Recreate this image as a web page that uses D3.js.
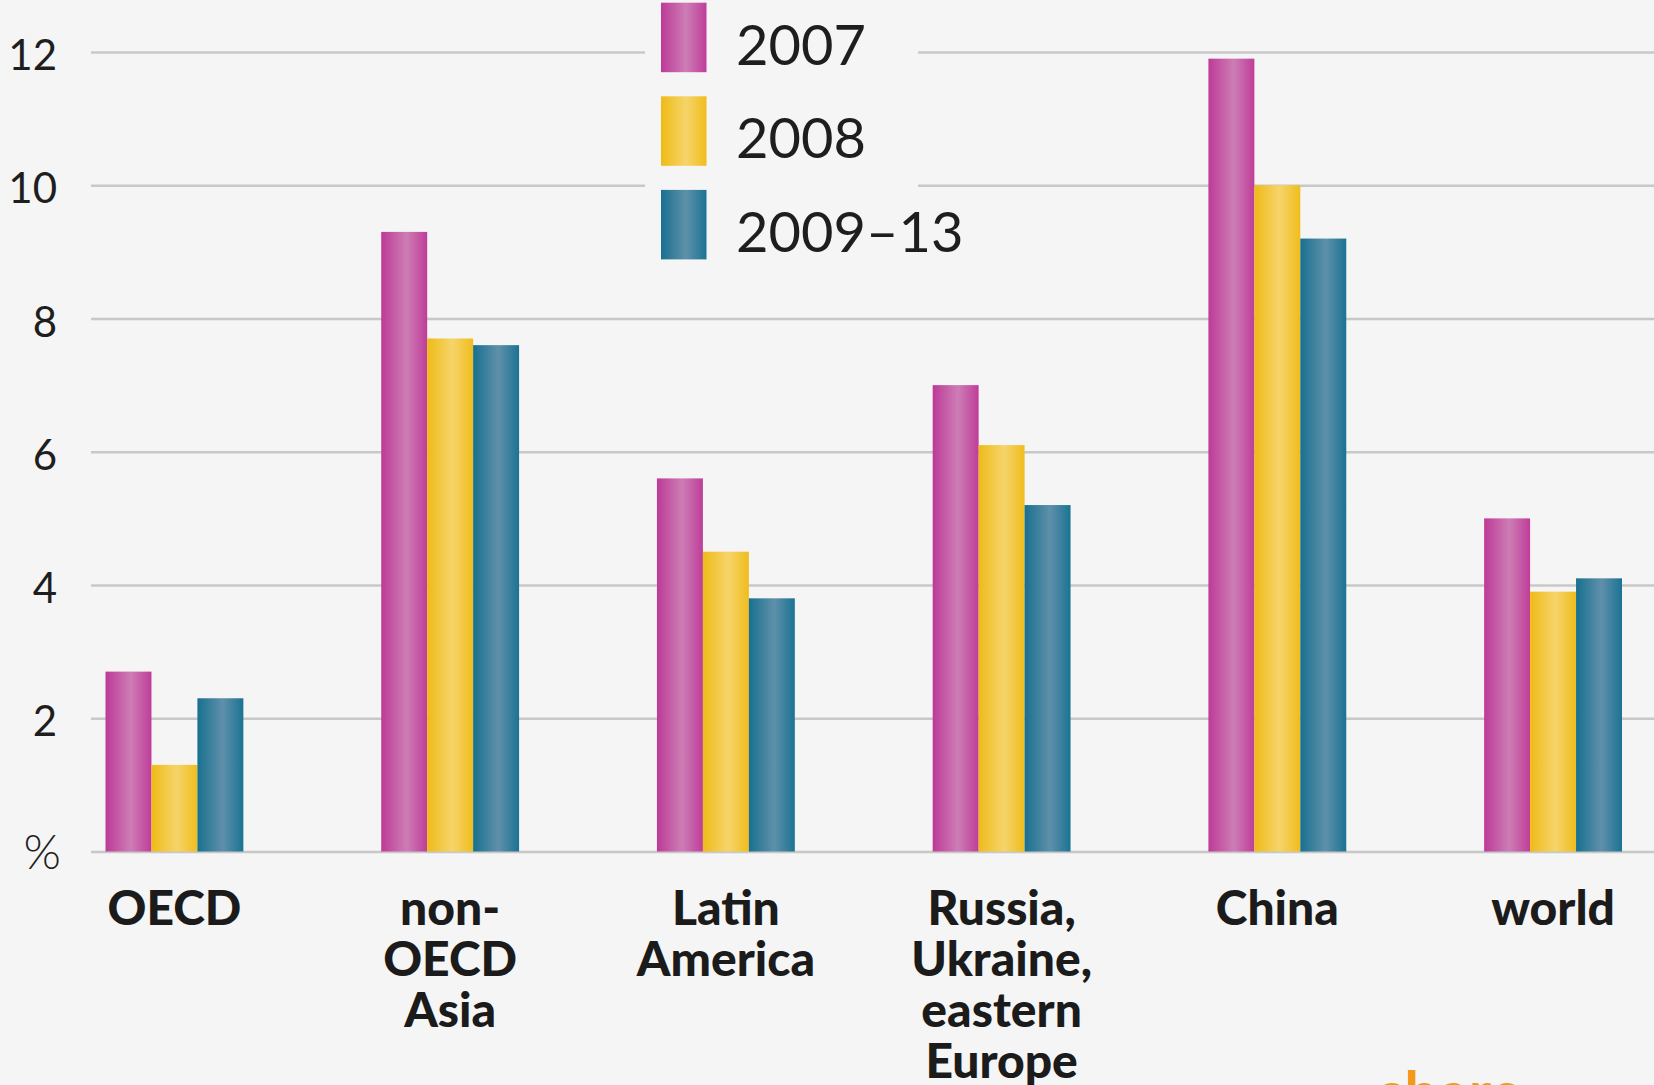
<!DOCTYPE html>
<html>
<head>
<meta charset="utf-8">
<script src="https://cdn.jsdelivr.net/npm/d3@7"></script>
<style>
  html, body { margin: 0; padding: 0; background: #f5f5f5; overflow: hidden; }
  svg { display: block; }
  text { font-family: Lato, "Open Sans", sans-serif; }
</style>
</head>
<body>
<script>
// data
const regions = ['OECD', 'non-OECD Asia', 'Latin America', 'Russia, Ukraine, eastern Europe', 'China', 'world'];
const regionLines = [['OECD'], ['non-', 'OECD', 'Asia'], ['Latin', 'America'], ['Russia,', 'Ukraine,', 'eastern', 'Europe'], ['China'], ['world']];
const series = ['2007', '2008', '2009–13'];
const v2007 = [2.7, 9.3, 5.6, 7.0, 11.9, 5.0];
const v2008 = [1.3, 7.7, 4.5, 6.1, 10.0, 3.9];
const v2009 = [2.3, 7.6, 3.8, 5.2, 9.2, 4.1];
const yTicks = [0, 2, 4, 6, 8, 10, 12];

const seriesValues = [v2007, v2008, v2009];
const colors = [
    ['#bd3a97', '#cd7db5', '#bf3d99'],
    ['#efbb17', '#f6d46a', '#f0bd1c'],
    ['#18708f', '#5f90aa', '#1b7394']
];

const width = 1654, height = 1085;

let svg = d3.select('body')
    .append('svg')
    .attr('width', width)
    .attr('height', height);

svg.append('rect')
    .attr('width', width)
    .attr('height', height)
    .attr('fill', '#f5f5f5');

let defs = svg.append('defs');
colors.forEach((c, i) => {
    let g = defs.append('linearGradient')
        .attr('id', 'grad' + i)
        .attr('x1', 0).attr('x2', 1)
        .attr('y1', 0).attr('y2', 0);
    g.append('stop').attr('offset', '0%').attr('stop-color', c[0]);
    g.append('stop').attr('offset', '55%').attr('stop-color', c[1]);
    g.append('stop').attr('offset', '100%').attr('stop-color', c[2]);
});

let x0 = d3.scaleBand()
    .domain(regions)
    .range([105.5, 1622])
    .paddingInner(0.5)
    .paddingOuter(0);

let x1 = d3.scaleBand()
    .domain(series)
    .range([0, x0.bandwidth()]);

let y = d3.scaleLinear()
    .domain([0, 12])
    .range([851.5, 52]);

// gridlines + tick labels
let axis = svg.append('g')
    .attr('transform', 'translate(91,0)')
    .call(d3.axisLeft(y)
        .tickValues(yTicks)
        .tickSize(-(width - 91))
        .tickPadding(34)
        .tickFormat(d => d === 0 ? '%' : d));

axis.select('.domain').remove();
axis.selectAll('.tick line')
    .attr('stroke', '#c8c8c8')
    .attr('stroke-width', 2.5);
axis.selectAll('.tick text')
    .attr('fill', '#1e1e1e')
    .attr('font-size', 42)
    .attr('font-weight', 400)
    .attr('dy', '0.42em');
axis.selectAll('.tick')
    .filter(d => d === 0)
    .select('text')
    .attr('font-weight', 300)
    .attr('font-size', 48)
    .attr('dy', '0.35em')
    .attr('x', -30);

// bars
let groups = svg.append('g')
    .selectAll('g')
    .data(regions)
    .enter()
    .append('g')
    .attr('transform', d => 'translate(' + x0(d) + ',0)');

groups.selectAll('rect')
    .data((d, i) => series.map((s, j) => ({ s: s, j: j, v: seriesValues[j][i] })))
    .enter()
    .append('rect')
    .attr('x', d => x1(d.s))
    .attr('y', d => y(d.v))
    .attr('width', x1.bandwidth())
    .attr('height', d => y(0) - y(d.v))
    .attr('fill', d => 'url(#grad' + d.j + ')');

// category labels
groups.append('text')
    .attr('x', x0.bandwidth() / 2)
    .attr('y', 925)
    .attr('text-anchor', 'middle')
    .attr('font-size', 48)
    .attr('font-weight', 900)
    .attr('fill', '#1b1b1b')
    .selectAll('tspan')
    .data((d, i) => regionLines[i])
    .enter()
    .append('tspan')
    .attr('x', x0.bandwidth() / 2)
    .attr('dy', (d, i) => i === 0 ? 0 : 51)
    .text(d => d);

// legend
let legend = svg.append('g');
legend.append('rect')
    .attr('x', 645)
    .attr('y', 0)
    .attr('width', 273)
    .attr('height', 268)
    .attr('fill', '#f5f5f5');

let items = legend.selectAll('g.item')
    .data(series)
    .enter()
    .append('g')
    .attr('class', 'item')
    .attr('transform', (d, i) => 'translate(661,' + (2.7 + i * 93.6) + ')');

items.append('rect')
    .attr('width', 45.5)
    .attr('height', 69.5)
    .attr('fill', (d, i) => 'url(#grad' + i + ')');

items.append('text')
    .attr('x', 75)
    .attr('y', 62)
    .attr('font-size', 56)
    .attr('fill', '#1e1e1e')
    .text(d => d);

// cut-off source mark at bottom right
svg.append('text')
    .attr('x', 1378)
    .attr('y', 1114)
    .attr('font-size', 60)
    .attr('font-weight', 700)
    .attr('fill', '#f39a1c')
    .text('share');
</script>
</body>
</html>
